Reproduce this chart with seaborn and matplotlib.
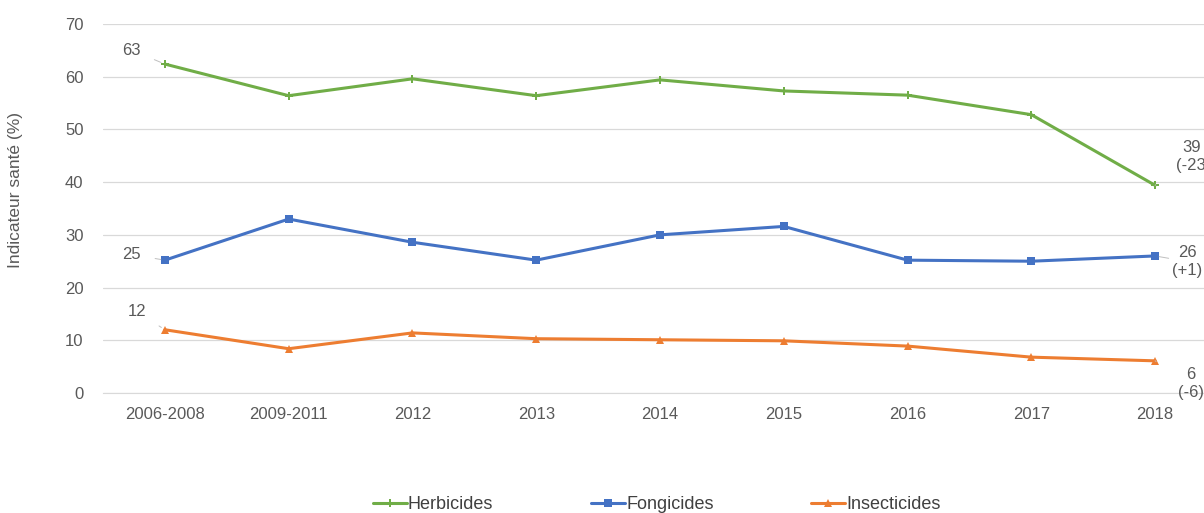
import pandas as pd
import seaborn as sns
import matplotlib.pyplot as plt

# Données
periodes = ['2006-2008', '2009-2011', '2012', '2013', '2014', '2015', '2016', '2017', '2018']
herbicides = [62.4, 56.4, 59.6, 56.4, 59.4, 57.3, 56.5, 52.8, 39.4]
fongicides = [25.2, 33.0, 28.6, 25.2, 30.0, 31.6, 25.2, 25.0, 26.0]
insecticides = [12.0, 8.4, 11.4, 10.3, 10.1, 9.9, 8.9, 6.8, 6.1]
series = ['Herbicides', 'Fongicides', 'Insecticides']
debut_labels = ['63', '25', '12']
fin_labels = ['39\n(-23', '26\n(+1)', '6\n(-6)']

df = pd.DataFrame({'Periode': periodes * 3,
                   'Valeur': herbicides + fongicides + insecticides,
                   'Type': [s for s in series for _ in periodes]})

couleurs = {'Herbicides': '#70ad47', 'Fongicides': '#4472c4', 'Insecticides': '#ed7d31'}
marqueurs = {'Herbicides': 'P', 'Fongicides': 's', 'Insecticides': '^'}

sns.set_style("white")
plt.rcParams['font.family'] = ['Liberation Sans', 'DejaVu Sans']

fig = plt.figure(figsize=(12.04, 5.13), dpi=100)
ax = fig.add_axes([103 / 1204, 120 / 513, 1114 / 1204, 369 / 513])

sns.lineplot(data=df, x='Periode', y='Valeur', hue='Type', style='Type',
             palette=couleurs, markers=marqueurs, dashes=False, sort=False,
             linewidth=2.2, markersize=6, markeredgewidth=0, ax=ax)

ax.set_xlim(-0.5, len(periodes) - 0.5)
ax.set_ylim(0, 70)
ax.set_yticks(range(0, 71, 10))
ax.yaxis.grid(True, color='#d9d9d9', linewidth=0.9)
for s in ['top', 'right', 'left']:
    ax.spines[s].set_visible(False)
ax.spines['bottom'].set_color('#d9d9d9')
ax.tick_params(axis='x', length=0, labelsize=12, labelcolor='#595959', pad=10)
ax.tick_params(axis='y', length=0, labelsize=12, labelcolor='#595959', pad=14)
ax.set_xlabel('')
ax.set_ylabel('Indicateur santé (%)', fontsize=12.5, color='#595959')
ax.yaxis.set_label_coords(-0.072, 0.55)

# Étiquettes de début et de fin
valeurs = [herbicides, fongicides, insecticides]
decal_debut = [(-24, 10), (-24, 4), (-20, 13)]
for vals, lab, off in zip(valeurs, debut_labels, decal_debut):
    ax.annotate(lab, xy=(0, vals[0]), xytext=off, textcoords='offset points',
                ha='center', va='center', fontsize=12, color='#595959',
                arrowprops=dict(arrowstyle='-', color='#bfbfbf', lw=0.7,
                                shrinkA=8, shrinkB=3))
decal_fin = [(26, 21), (23, -4), (26, -16)]
n = len(periodes) - 1
for vals, lab, off in zip(valeurs, fin_labels, decal_fin):
    ax.annotate(lab, xy=(n, vals[-1]), xytext=off, textcoords='offset points',
                ha='center', va='center', fontsize=12, color='#595959',
                linespacing=1.25,
                arrowprops=dict(arrowstyle='-', color='#bfbfbf', lw=0.7,
                                shrinkA=16, shrinkB=3))

handles, labels = ax.get_legend_handles_labels()
ax.legend(handles, labels, loc='upper center', bbox_to_anchor=(0.497, -0.235),
          ncol=3, frameon=False, fontsize=13, labelcolor='#404040',
          columnspacing=5.4, handlelength=1.9, handletextpad=0.05)

plt.savefig("out.png", dpi=100)
